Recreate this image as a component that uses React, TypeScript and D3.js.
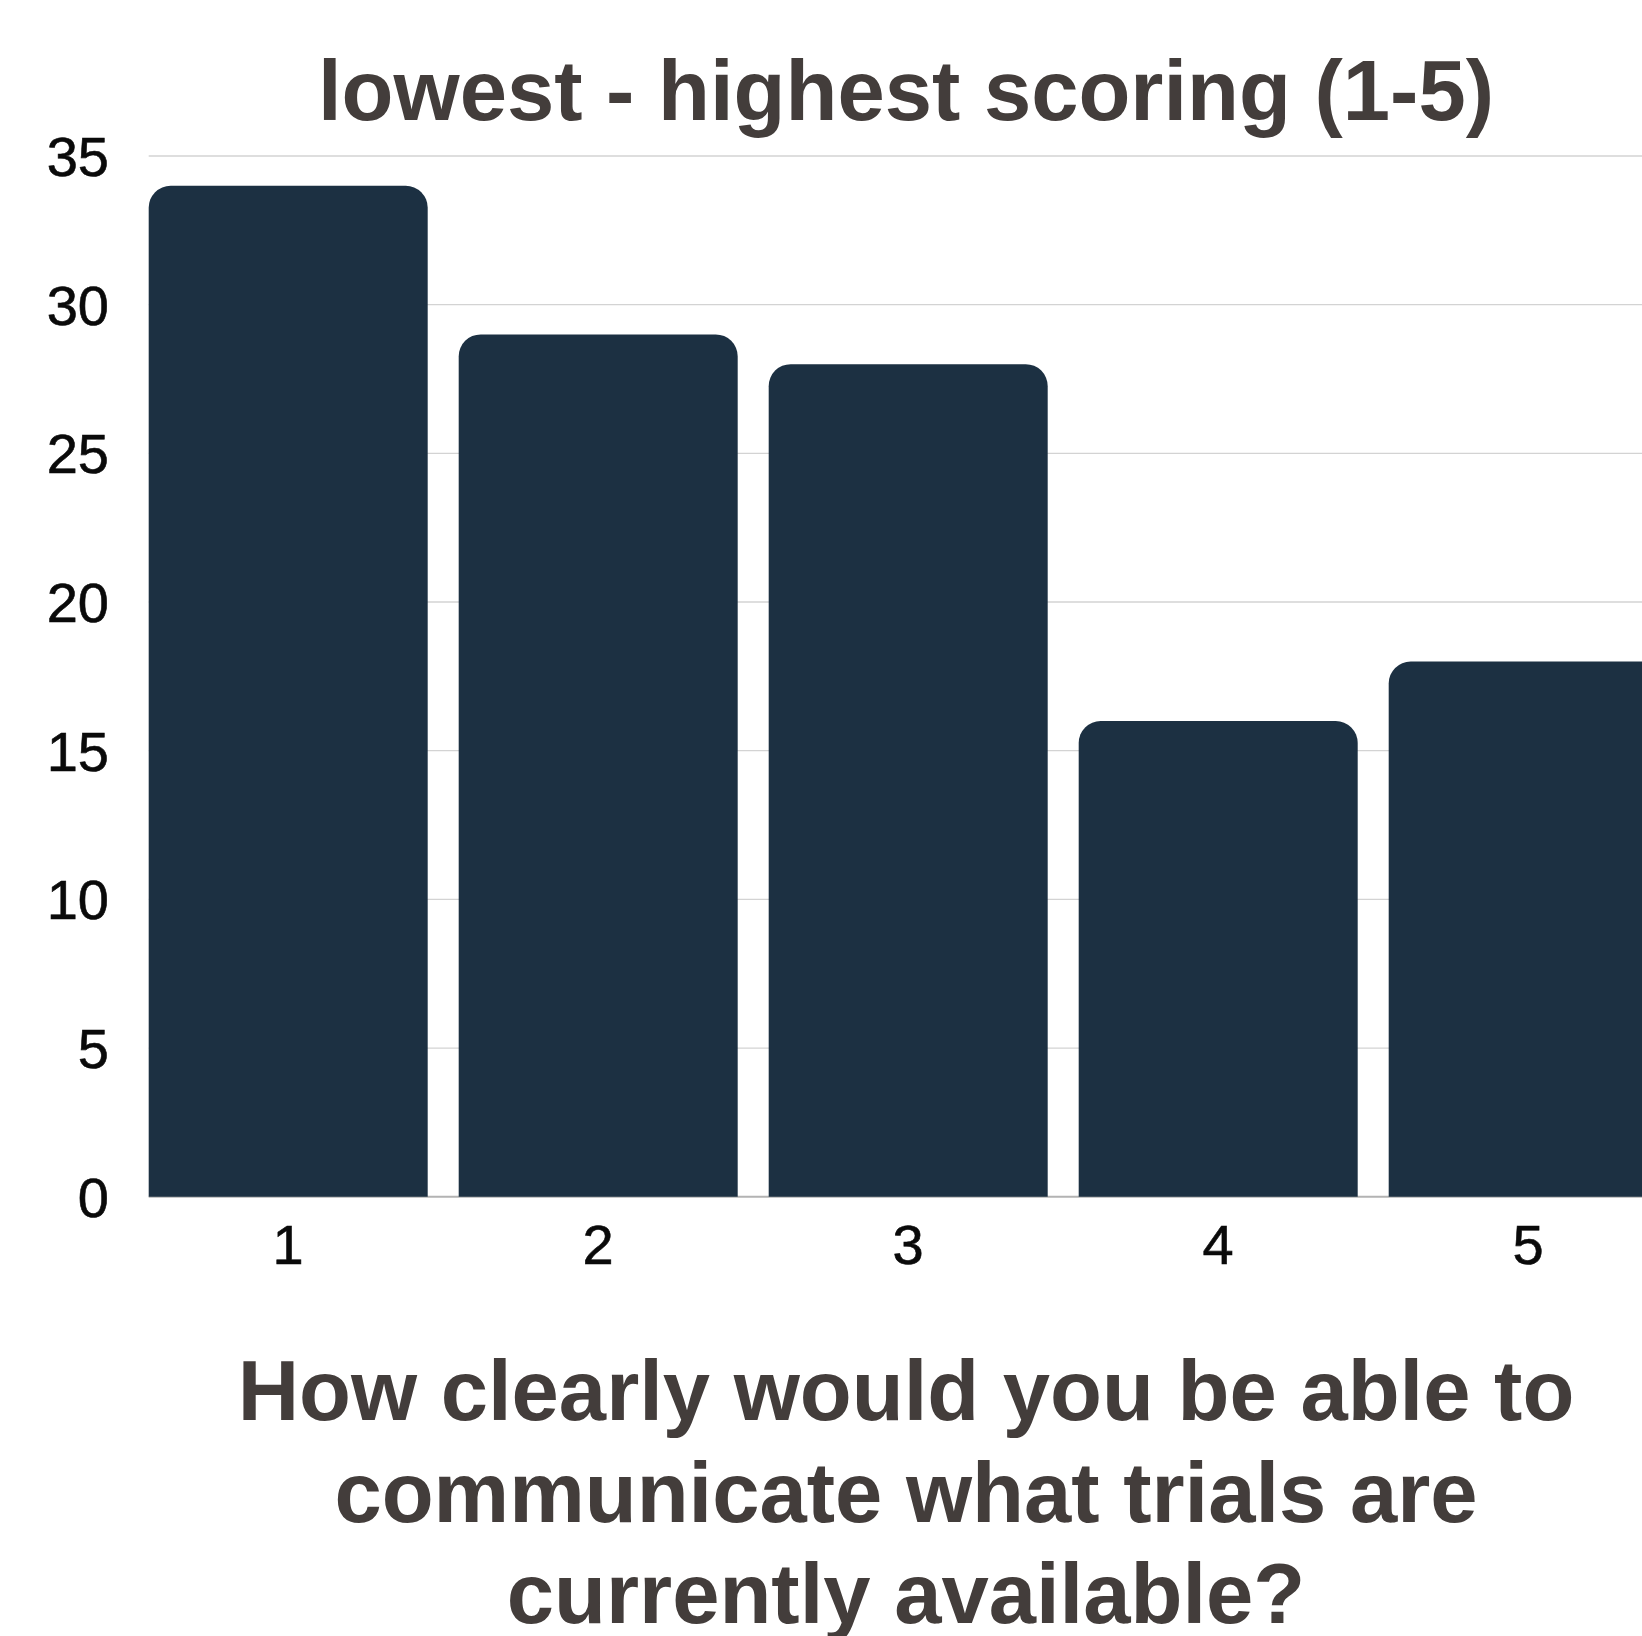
import { useEffect, useRef } from "react";
import * as d3 from "d3";

const scores = ["1", "2", "3", "4", "5"];
const counts = [34, 29, 28, 16, 18];
const yTicks = [0, 5, 10, 15, 20, 25, 30, 35];
const titleText = "lowest - highest scoring (1-5)";
const axisTitleLines = [
  "How clearly would you be able to",
  "communicate what trials are",
  "currently available?",
];

const W = 1642;
const H = 1636;

export default function App() {
  const svgRef = useRef<SVGSVGElement>(null);

  useEffect(() => {
    if (!svgRef.current) return;
    const svg = d3.select(svgRef.current);
    svg.selectAll("*").remove();

    const left = 148.7;
    const x = d3
      .scaleBand()
      .domain(scores)
      .range([left, left + 4.9 * 310])
      .paddingInner(0.1)
      .paddingOuter(0);

    const y = d3.scaleLinear().domain([0, 35]).range([1196.7, 156]);
    const font = "'Liberation Sans', Arial, sans-serif";
    const textColor = "#433d3b";

    // gridlines
    svg
      .append("g")
      .selectAll("line")
      .data(yTicks.filter((t) => t > 0))
      .join("line")
      .attr("x1", left)
      .attr("x2", W)
      .attr("y1", (d) => y(d))
      .attr("y2", (d) => y(d))
      .attr("stroke", "#d3d3d3")
      .attr("stroke-width", 1.3);

    // baseline
    svg
      .append("line")
      .attr("x1", left)
      .attr("x2", W)
      .attr("y1", y(0))
      .attr("y2", y(0))
      .attr("stroke", "#b3b3b3")
      .attr("stroke-width", 2);

    const r = 22;
    const barPath = (d: number, i: number) => {
      const x0 = x(scores[i]) || 0;
      const x1 = x0 + x.bandwidth();
      const top = y(d);
      const bottom = y(0);
      return `M${x0},${bottom}V${top + r}A${r},${r} 0 0 1 ${x0 + r},${top}H${x1 - r}A${r},${r} 0 0 1 ${x1},${top + r}V${bottom}Z`;
    };

    svg
      .append("g")
      .selectAll("path")
      .data(counts)
      .join("path")
      .attr("d", (d, i) => barPath(d, i))
      .attr("fill", "#1c3042");

    // y tick labels
    svg
      .append("g")
      .selectAll("text")
      .data(yTicks)
      .join("text")
      .attr("x", 109)
      .attr("y", (d) => y(d))
      .attr("dy", "0.355em")
      .attr("text-anchor", "end")
      .attr("font-family", font)
      .attr("font-size", 56)
      .attr("fill", "#0a0a0a")
      .attr("stroke", "#0a0a0a")
      .attr("stroke-width", 0.6)
      .text((d) => d);

    // x tick labels
    svg
      .append("g")
      .selectAll("text")
      .data(scores)
      .join("text")
      .attr("x", (d) => (x(d) || 0) + x.bandwidth() / 2)
      .attr("y", 1264)
      .attr("text-anchor", "middle")
      .attr("font-family", font)
      .attr("font-size", 56)
      .attr("fill", "#0a0a0a")
      .attr("stroke", "#0a0a0a")
      .attr("stroke-width", 0.6)
      .text((d) => d);

    const cx = 906;

    svg
      .append("text")
      .attr("x", cx)
      .attr("y", 120)
      .attr("text-anchor", "middle")
      .attr("font-family", font)
      .attr("font-weight", "bold")
      .attr("font-size", 85)
      .attr("fill", textColor)
      .text(titleText);

    svg
      .append("g")
      .selectAll("text")
      .data(axisTitleLines)
      .join("text")
      .attr("x", cx)
      .attr("y", (_, i) => 1420 + i * 101.5)
      .attr("text-anchor", "middle")
      .attr("font-family", font)
      .attr("font-weight", "bold")
      .attr("font-size", 85)
      .attr("fill", textColor)
      .text((d) => d);
  }, []);

  return (
    <div style={{ position: "absolute", left: 0, top: 0, width: W, height: H, overflow: "hidden", background: "#fff" }}>
      <svg ref={svgRef} width={W} height={H} style={{ display: "block" }}></svg>
    </div>
  );
}
